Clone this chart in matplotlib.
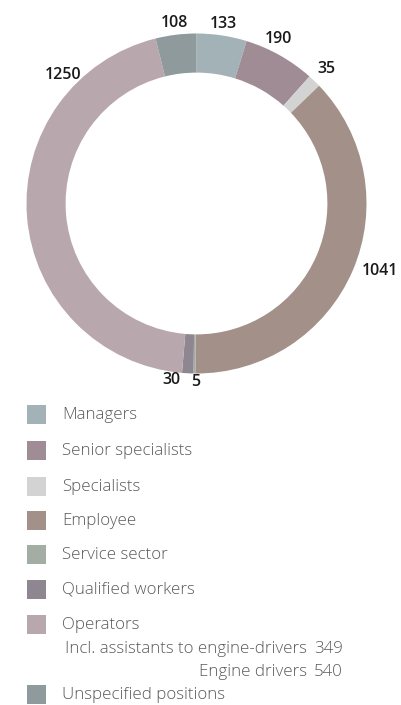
import numpy as np
import matplotlib
matplotlib.use('Agg')
import matplotlib.pyplot as plt
from matplotlib.patches import Rectangle

plt.rcParams['font.family'] = ['Open Sans', 'DejaVu Sans']

# ===========================
# data
# ===========================
CATEGORIES = ["Managers", "Senior specialists", "Specialists", "Employee",
              "Service sector", "Qualified workers", "Operators",
              "Unspecified positions"]
COUNTS = [133, 190, 35, 1041, 5, 30, 1250, 108]
COLORS = ["#a3b2b7", "#a08c95", "#d3d3d3", "#a39088",
          "#a3ada3", "#8e8792", "#b8a8ae", "#8e9a9c"]

OPERATOR_DETAIL = ["Incl. assistants to engine-drivers", "Engine drivers"]
OPERATOR_DETAIL_VALUES = [349, 540]

# label placement tweaks (degrees / radius) per segment
LABEL_ANGLE_SHIFT = [0, 3, 0, 3, 0.5, -5, 0, 0]
LABEL_ANGLE_FIXED = {6: 136}
LABEL_RADIUS = [1.07, 1.08, 1.1, 1.15, 1.05, 1.05, 1.09, 1.07]

fig = plt.figure(figsize=(4.01, 7.05), dpi=100)

# ===========================
# donut
# ===========================
ax = fig.add_axes([26.5 / 401, 1 - 373.5 / 705, 340 / 401, 340 / 705])
wedges, _ = ax.pie(COUNTS, colors=COLORS, startangle=90, counterclock=False,
                   radius=1.0, wedgeprops=dict(width=0.23, linewidth=0))
ax.set_xlim(-1, 1)
ax.set_ylim(-1, 1)
ax.set_aspect('equal')
ax.axis('off')

for i, (w, val) in enumerate(zip(wedges, COUNTS)):
    ang = (w.theta1 + w.theta2) / 2 + LABEL_ANGLE_SHIFT[i]
    ang = LABEL_ANGLE_FIXED.get(i, ang)
    r = LABEL_RADIUS[i]
    x = r * np.cos(np.deg2rad(ang))
    y = r * np.sin(np.deg2rad(ang))
    ax.text(x, y, str(val), ha='center', va='center', fontsize=11.5,
            color='#1a1a1a', fontweight='semibold', clip_on=False)

# ===========================
# legend
# ===========================
leg = fig.add_axes([0, 0, 1, 1], facecolor='none')
leg.set_xlim(0, 401)
leg.set_ylim(705, 0)
leg.axis('off')

row_y = [415, 451, 487, 521, 555, 590, 625, 695]
for name, color, y in zip(CATEGORIES, COLORS, row_y):
    leg.add_patch(Rectangle((27, y - 10), 19, 19, facecolor=color, edgecolor='none'))
    leg.text(62, y, name, ha='left', va='center', fontsize=12.2,
             color='#5a5a5a', fontweight='light')

detail_y = [649, 672]
for name, val, y in zip(OPERATOR_DETAIL, OPERATOR_DETAIL_VALUES, detail_y):
    leg.text(307, y, name, ha='right', va='center', fontsize=12.2,
             color='#5a5a5a', fontweight='light')
    leg.text(314, y, str(val), ha='left', va='center', fontsize=12.2,
             color='#5a5a5a', fontweight='light')

fig.savefig("out.png", dpi=100)
